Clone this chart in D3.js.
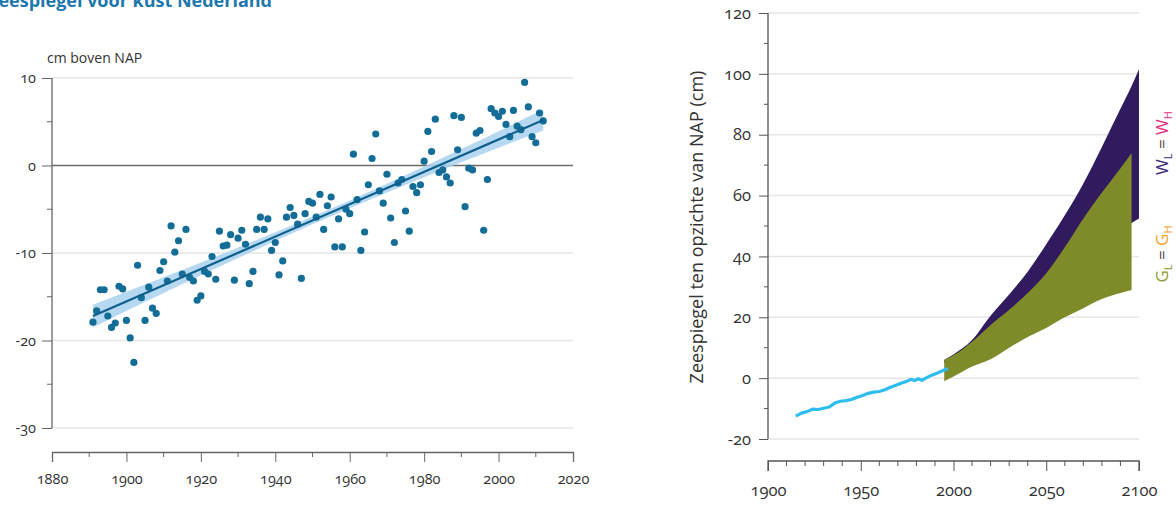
<!DOCTYPE html>
<html>
<head>
<meta charset="utf-8">
<script src="https://cdn.jsdelivr.net/npm/d3@7"></script>
<style>
  body { margin: 0; background: #fff; }
  svg { display: block; font-family: "Open Sans", sans-serif; font-variant-numeric: oldstyle-nums; }
</style>
</head>
<body>
<script>
/*** data: left chart (yearly mean sea level, cm above NAP) ***/
const years = d3.range(1891, 2013);
const levels = [
  -17.9, -16.6, -14.2, -14.2, -17.2, -18.5, -18.0, -13.8, -14.1, -17.7,   // 1891-1900
  -19.7, -22.5, -11.4, -15.1, -17.7, -13.9, -16.3, -16.9, -12.0, -11.0,   // 1901-1910
  -13.2, -6.9, -9.9, -8.6, -12.4, -7.3, -12.8, -13.2, -15.4, -14.9,       // 1911-1920
  -12.1, -12.4, -10.4, -13.0, -7.5, -9.2, -9.1, -7.9, -13.1, -8.3,        // 1921-1930
  -7.4, -9.0, -13.5, -12.1, -7.3, -5.9, -7.3, -6.1, -9.7, -8.8,           // 1931-1940
  -12.5, -10.9, -5.9, -4.8, -5.7, -6.7, -12.9, -5.5, -4.1, -4.3,          // 1941-1950
  -5.9, -3.3, -7.3, -4.6, -3.6, -9.3, -6.1, -9.3, -5.0, -5.5,             // 1951-1960
  1.3, -3.9, -9.7, -7.6, -2.2, 0.8, 3.6, -2.9, -4.3, -1.0,                // 1961-1970
  -6.0, -8.8, -2.0, -1.6, -5.2, -7.5, -2.4, -3.1, -2.2, 0.5,              // 1971-1980
  3.9, 1.6, 5.3, -0.8, -0.5, -1.3, -2.0, 5.7, 1.8, 5.5,                   // 1981-1990
  -4.7, -0.3, -0.5, 3.7, 4.0, -7.4, -1.6, 6.5, 6.0, 5.6,                  // 1991-2000
  6.2, 4.7, 3.3, 6.3, 4.5, 4.1, 9.5, 6.7, 3.3, 2.6,                       // 2001-2010
  6.0, 5.1                                                                // 2011-2012
];
const trendYears = [1891, 2012];
const trendValues = [-17.2, 5.2];
const bandYears = [1891, 1910, 1930, 1950, 1970, 1990, 2012];
const bandHalf = [1.3, 0.9, 0.6, 0.45, 0.5, 0.75, 1.2];
const leftXTicks = d3.range(1880, 2021, 20);
const leftYTicks = [-30, -20, -10, 0, 10];

/*** data: right chart (observed and projected, cm relative to NAP) ***/
const obsYears = [1915, 1918, 1921, 1924, 1927, 1930, 1933, 1936, 1939, 1942, 1945, 1948, 1951, 1954,
  1957, 1960, 1963, 1966, 1969, 1972, 1975, 1977, 1979, 1981, 1983, 1985, 1988, 1991, 1994, 1996, 1997];
const obsLevels = [-12.5, -11.5, -11.0, -10.2, -10.3, -9.9, -9.5, -8.2, -7.6, -7.4, -7.0, -6.3, -5.7, -5.0,
  -4.6, -4.4, -3.8, -3.0, -2.3, -1.6, -1.0, -0.4, -0.8, -0.2, -0.7, 0.0, 0.9, 1.6, 2.4, 3.0, 2.8];
const gYears = [1995, 2000, 2010, 2020, 2030, 2040, 2050, 2060, 2070, 2080, 2090, 2096];
const gLow = [-1.0, 0.5, 3.8, 6.2, 10.0, 13.5, 16.5, 20.0, 23.0, 26.0, 28.0, 29.0];
const gHigh = [6.0, 7.5, 12.0, 17.5, 22.5, 28.0, 34.5, 43.0, 52.5, 61.0, 69.0, 74.0];
const wYears = [1995, 2000, 2010, 2020, 2030, 2040, 2050, 2060, 2070, 2080, 2090, 2096, 2100];
const wLow = [5.0, 6.0, 9.0, 13.0, 18.0, 23.0, 28.0, 33.0, 38.0, 43.0, 48.0, 51.0, 52.5];
const wHigh = [6.0, 7.8, 12.5, 20.5, 27.5, 35.0, 44.0, 53.5, 64.0, 76.0, 88.5, 96.0, 101.5];
const rightXTicks = [1900, 1950, 2000, 2050, 2100];
const rightYTicks = d3.range(-20, 121, 20);

const svg = d3.select("body").append("svg")
  .attr("width", 1176).attr("height", 506);

/*** left chart ***/
const x1 = d3.scaleLinear().domain([1880, 2020]).range([52, 573]);
const y1 = d3.scaleLinear().domain([-30, 10]).range([428, 78]);
const L = svg.append("g");

L.append("text")
  .attr("x", 272).attr("y", 7)
  .attr("text-anchor", "end")
  .attr("font-size", 18).attr("font-weight", "bold")
  .attr("fill", "#1c78ad")
  .text("Zeespiegel voor kust Nederland");

L.append("text")
  .attr("x", 47).attr("y", 63)
  .attr("font-size", 14).attr("fill", "#333")
  .text("cm boven NAP");

L.append("g").selectAll("line")
  .data(leftYTicks.filter(d => d !== 0))
  .join("line")
  .attr("x1", 52).attr("x2", 573)
  .attr("y1", d => y1(d)).attr("y2", d => y1(d))
  .attr("stroke", "#e6e6e6").attr("stroke-width", 1.5);

// y axis
const yAxisL = L.append("g").attr("transform", "translate(52,0)")
  .call(d3.axisLeft(y1).tickValues(leftYTicks).tickSize(10).tickPadding(6).tickFormat(d => String(d)));
yAxisL.append("g").selectAll("line")
  .data([-25, -15, -5, 5]).join("line")
  .attr("x1", -5).attr("x2", 0)
  .attr("y1", d => y1(d)).attr("y2", d => y1(d))
  .attr("stroke", "#666");

// x axis
const xAxisL = L.append("g").attr("transform", "translate(0,452)")
  .call(d3.axisBottom(x1).tickValues(leftXTicks).tickSize(10).tickPadding(12).tickFormat(d => String(d)));
xAxisL.append("g").selectAll("line")
  .data(d3.range(1890, 2020, 20)).join("line")
  .attr("x1", d => x1(d)).attr("x2", d => x1(d))
  .attr("y1", 0).attr("y2", 5)
  .attr("stroke", "#666");

[yAxisL, xAxisL].forEach(a => {
  a.select(".domain").attr("stroke", "#666").attr("stroke-width", 1.3);
  a.selectAll(".tick line").attr("stroke", "#666");
  a.selectAll(".tick text").attr("font-size", 14.5).attr("fill", "#333")
    .attr("font-family", "Open Sans, sans-serif");
});
yAxisL.select(".domain").attr("d", "M0,78V428");

// zero line
L.append("line")
  .attr("x1", 52).attr("x2", 573)
  .attr("y1", y1(0)).attr("y2", y1(0))
  .attr("stroke", "#6b6b6b").attr("stroke-width", 1.6);

// confidence band and trend
const trendAt = yr => trendValues[0] + (yr - trendYears[0]) * (trendValues[1] - trendValues[0]) / (trendYears[1] - trendYears[0]);
L.append("path")
  .datum(bandYears.map((yr, i) => [yr, bandHalf[i]]))
  .attr("d", d3.area().curve(d3.curveMonotoneX)
    .x(d => x1(d[0]))
    .y0(d => y1(trendAt(d[0]) - d[1]))
    .y1(d => y1(trendAt(d[0]) + d[1])))
  .attr("fill", "#a9d2ef").attr("opacity", 0.85);

L.append("g").selectAll("circle")
  .data(years.map((yr, i) => [yr, levels[i]]))
  .join("circle")
  .attr("cx", d => x1(d[0])).attr("cy", d => y1(d[1]))
  .attr("r", 3.6)
  .attr("fill", "#136d97");

L.append("line")
  .attr("x1", x1(trendYears[0])).attr("y1", y1(trendValues[0]))
  .attr("x2", x1(trendYears[1])).attr("y2", y1(trendValues[1]))
  .attr("stroke", "#0f5f8d").attr("stroke-width", 2.2);

/*** right chart ***/
const x2 = d3.scaleLinear().domain([1900, 2100]).range([768, 1139]);
const y2 = d3.scaleLinear().domain([-20, 120]).range([439, 13]);
const R = svg.append("g");

R.append("g").selectAll("line")
  .data(rightYTicks).join("line")
  .attr("x1", 768).attr("x2", 1139)
  .attr("y1", d => y2(d)).attr("y2", d => y2(d))
  .attr("stroke", "#e6e6e6").attr("stroke-width", 1.5);

const yAxisR = R.append("g").attr("transform", "translate(768,0)")
  .call(d3.axisLeft(y2).tickValues(rightYTicks).tickSize(9).tickPadding(8).tickFormat(d => String(d)));
yAxisR.append("g").selectAll("line")
  .data(d3.range(-10, 120, 20)).join("line")
  .attr("x1", -4).attr("x2", 0)
  .attr("y1", d => y2(d)).attr("y2", d => y2(d))
  .attr("stroke", "#555");

const xAxisR = R.append("g").attr("transform", "translate(0,461)")
  .call(d3.axisBottom(x2).tickValues(rightXTicks).tickSize(10).tickPadding(13).tickFormat(d => String(d)));
xAxisR.append("g").selectAll("line")
  .data(d3.range(1910, 2100, 10).filter(d => d % 50 !== 0)).join("line")
  .attr("x1", d => x2(d)).attr("x2", d => x2(d))
  .attr("y1", 0).attr("y2", 5)
  .attr("stroke", "#555");

[yAxisR, xAxisR].forEach(a => {
  a.select(".domain").attr("stroke", "#555").attr("stroke-width", 1.3);
  a.selectAll(".tick line").attr("stroke", "#555");
  a.selectAll(".tick text").attr("font-size", 16.5).attr("fill", "#333")
    .attr("font-family", "Open Sans, sans-serif");
});
yAxisR.select(".domain").attr("d", "M0,13V439");
xAxisR.select(".domain").attr("d", "M768,10V0H1139V10");

R.append("text")
  .attr("transform", "translate(703,227) rotate(-90)")
  .attr("text-anchor", "middle")
  .attr("font-size", 18).attr("fill", "#333")
  .text("Zeespiegel ten opzichte van NAP (cm)");

// scenario bands
R.append("path")
  .datum(wYears.map((yr, i) => [yr, wLow[i], wHigh[i]]))
  .attr("d", d3.area().curve(d3.curveMonotoneX).x(d => x2(d[0])).y0(d => y2(d[1])).y1(d => y2(d[2])))
  .attr("fill", "#2f1b5e");

R.append("path")
  .datum(gYears.map((yr, i) => [yr, gLow[i], gHigh[i]]))
  .attr("d", d3.area().curve(d3.curveMonotoneX).x(d => x2(d[0])).y0(d => y2(d[1])).y1(d => y2(d[2])))
  .attr("fill", "#7f8a29");

R.append("path")
  .datum(obsYears.map((yr, i) => [yr, obsLevels[i]]))
  .attr("d", d3.line().x(d => x2(d[0])).y(d => y2(d[1])))
  .attr("fill", "none")
  .attr("stroke", "#2dbdee").attr("stroke-width", 3.2)
  .attr("stroke-linejoin", "round");

// scenario labels
function scenarioLabel(cy, letter, c1, c2) {
  const t = R.append("text")
    .attr("transform", `translate(1168,${cy}) rotate(-90)`)
    .attr("text-anchor", "middle")
    .attr("font-size", 17);
  t.append("tspan").attr("fill", c1).text(letter);
  t.append("tspan").attr("fill", c1).attr("font-size", 11).attr("dy", 4).text("L");
  t.append("tspan").attr("fill", "#444").attr("dy", -4).text(" = ");
  t.append("tspan").attr("fill", c2).text(letter);
  t.append("tspan").attr("fill", c2).attr("font-size", 11).attr("dy", 4).text("H");
}
scenarioLabel(143, "W", "#3e2c80", "#e0327f");
scenarioLabel(254, "G", "#8c9a2c", "#f6a11e");
</script>
</body>
</html>
